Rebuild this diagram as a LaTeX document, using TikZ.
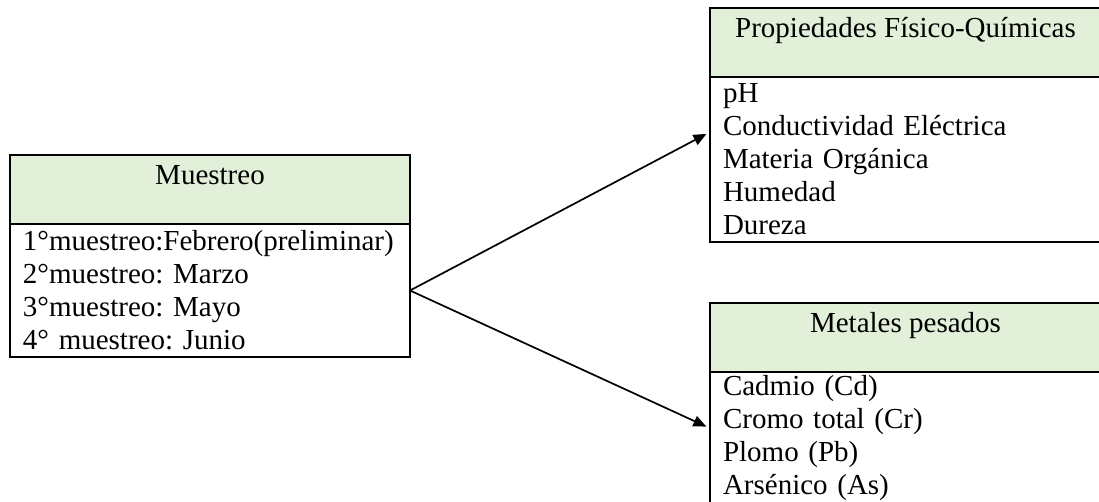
\documentclass[tikz,border=0pt]{standalone}
\usepackage{fontspec}
\setmainfont{Liberation Serif}
\usetikzlibrary{positioning,arrows.meta}
\definecolor{headgreen}{HTML}{E2EFD9}

\begin{document}
\frenchspacing
\begin{tikzpicture}[x=0.5pt,y=-0.5pt,
  font=\fontsize{14.5}{16.5}\selectfont,
  box/.style={draw=black, line width=0.7pt, outer sep=0pt, inner ysep=0pt},
  head/.style={box, fill=headgreen, minimum height=34.5pt, text height=15pt, text depth=19.5pt},
  body/.style={box, fill=white, align=left, inner xsep=6.5pt, anchor=north},
  arr/.style={-{Triangle[length=6.5pt,width=5.5pt]}, line width=0.85pt, shorten >=2pt}]
%frame
\useasboundingbox (0,0) rectangle (1099,502);
\clip (0,0) rectangle (1099,502);
%left box:
\node[head, minimum width=200pt, anchor=north west] (mh) at (10,155) {Muestreo};
\node[body, minimum width=200pt, text width=187pt, minimum height=66.5pt, below=0pt of mh] (mb)
  {1°muestreo:Febrero(preliminar)\\2°muestreo: Marzo\\3°muestreo: Mayo\\4° muestreo: Junio};
%top right box:
\node[head, minimum width=195.5pt, anchor=north west] (ph) at (710,8) {Propiedades Físico-Químicas};
\node[body, minimum width=195.5pt, text width=182.5pt, minimum height=82.5pt, below=0pt of ph] (pb)
  {pH\\Conductividad Eléctrica\\Materia Orgánica\\Humedad\\Dureza};
%bottom right box:
\node[head, minimum width=195.5pt, anchor=north west] (kh) at (710,303) {Metales pesados};
\node[body, minimum width=195.5pt, text width=182.5pt, minimum height=66.5pt, below=0pt of kh] (kb)
  {Cadmio (Cd)\\Cromo total (Cr)\\Plomo (Pb)\\Arsénico (As)};
%arrows:
\draw[arr] (mb.east) -- (pb.172);
\draw[arr] (mb.east) -- (kb.177);
\end{tikzpicture}
\end{document}
